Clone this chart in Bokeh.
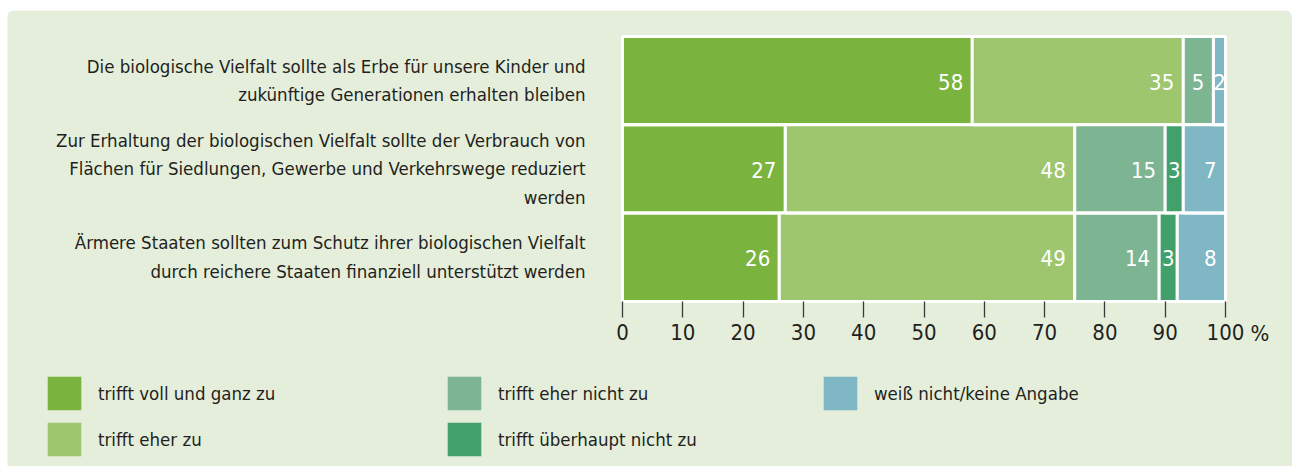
from bokeh.plotting import figure
from bokeh.models import (ColumnDataSource, Range1d, Legend, LegendItem,
                          Label, FixedTicker, LinearAxis)
from bokeh.embed import file_html
from bokeh.resources import INLINE
from bokeh.core.properties import value

# ---------------- data ----------------
statements = [
    "Die biologische Vielfalt sollte als Erbe für unsere Kinder und\nzukünftige Generationen erhalten bleiben",
    "Zur Erhaltung der biologischen Vielfalt sollte der Verbrauch von\nFlächen für Siedlungen, Gewerbe und Verkehrswege reduziert\nwerden",
    "Ärmere Staaten sollten zum Schutz ihrer biologischen Vielfalt\ndurch reichere Staaten finanziell unterstützt werden",
]
answers = ["trifft voll und ganz zu", "trifft eher zu", "trifft eher nicht zu",
           "trifft überhaupt nicht zu", "weiß nicht/keine Angabe"]
voll_und_ganz = [58, 27, 26]
eher_zu = [35, 48, 49]
eher_nicht = [5, 15, 14]
ueberhaupt_nicht = [0, 3, 3]
weiss_nicht = [2, 7, 8]
x_ticks = [0, 10, 20, 30, 40, 50, 60, 70, 80, 90, 100]

series = [voll_und_ganz, eher_zu, eher_nicht, ueberhaupt_nicht, weiss_nicht]
colors = ["#7ab43f", "#9dc66f", "#7db592", "#42a06b", "#7fb7c4"]

FONT = "DejaVu Sans Condensed, Roboto, sans-serif"
TXT = "#231f20"
BG = "#e5eedb"

# ---------------- layout constants (pixels) ----------------
W, H = 1285, 456
X0_PX = 615          # where x = 0 sits, from the figure's left edge
PX_PER_X = 6.03
BAR_TOP_PX = 26      # top of the bar block, from the figure's top edge
PX_PER_ROW = 88.3

n = len(statements)
row_y = [n - 1 - i for i in range(n)]          # top statement highest
x_start = -X0_PX / PX_PER_X
x_end = x_start + W / PX_PER_X
y_end = (n - 0.5) + BAR_TOP_PX / PX_PER_ROW
y_start = y_end - H / PX_PER_ROW

p = figure(width=W, height=H, output_backend="svg", toolbar_location=None,
           x_range=Range1d(x_start, x_end), y_range=Range1d(y_start, y_end),
           x_axis_location=None, y_axis_location=None,
           min_border=0, min_border_left=0, min_border_right=0,
           min_border_top=0, min_border_bottom=0)
p.styles = {"margin-left": "7px", "margin-top": "10px",
            "border-radius": "8px 8px 0 0", "overflow": "hidden"}
p.background_fill_color = BG
p.border_fill_color = BG
p.outline_line_color = None
p.grid.visible = False

# stacked bars
fill_renderers = []
lab_big = dict(x=[], y=[], t=[])
lab_small = dict(x=[], y=[], t=[])
left = [0] * n
for vals, col in zip(series, colors):
    right = [l + v for l, v in zip(left, vals)]
    src = ColumnDataSource(dict(y=row_y, left=left, right=right))
    r = p.hbar(y="y", left="left", right="right", height=1, source=src,
               fill_color=col, line_color=None)
    fill_renderers.append(r)
    p.hbar(y="y", left="left", right="right", height=1, source=src,
           fill_alpha=0, line_color="white", line_width=3)
    for yy, l, rr, v in zip(row_y, left, right, vals):
        if v == 0:
            continue
        if v <= 3:
            lab_small["x"].append((l + rr) / 2)
            lab_small["y"].append(yy)
            lab_small["t"].append(str(v))
        else:
            lab_big["x"].append(rr)
            lab_big["y"].append(yy)
            lab_big["t"].append(str(v))
    left = right

p.text(x="x", y="y", text="t", source=ColumnDataSource(lab_big),
       text_align="right", text_baseline="middle", x_offset=-9, y_offset=1,
       text_color="white", text_font=value(FONT), text_font_size="22px")
p.text(x="x", y="y", text="t", source=ColumnDataSource(lab_small),
       text_align="center", text_baseline="middle", y_offset=1,
       text_color="white", text_font=value(FONT), text_font_size="22px")

# x axis, fixed at the bottom of the bars
xa = LinearAxis(fixed_location=-0.5, ticker=FixedTicker(ticks=x_ticks))
xa.axis_line_color = None
xa.major_tick_in = 0
xa.major_tick_out = 16
xa.major_tick_line_color = "#3a3a3a"
xa.major_tick_line_width = 1.3
xa.minor_tick_line_color = None
xa.major_label_standoff = 7
xa.major_label_text_font = FONT
xa.major_label_text_font_size = "22px"
xa.major_label_text_color = TXT
p.add_layout(xa, "below")

# y axis carrying the statements, fixed at x = 0
ya = LinearAxis(fixed_location=0, ticker=FixedTicker(ticks=row_y),
                major_label_overrides={yy: s for yy, s in zip(row_y, statements)})
ya.axis_line_color = None
ya.major_tick_line_color = None
ya.minor_tick_line_color = None
ya.major_label_standoff = 31
ya.major_label_text_font = FONT
ya.major_label_text_font_size = "18.5px"
ya.major_label_text_color = TXT
ya.major_label_text_align = "right"
ya.major_label_text_line_height = 1.36
p.add_layout(ya, "left")

p.add_layout(Label(x=100, y=-0.5, text="%", x_offset=25, y_offset=-32,
                   text_baseline="middle", text_font=FONT,
                   text_font_size="22px", text_color=TXT))

# legends (three columns)
def make_legend(idx, loc):
    items = [LegendItem(label=answers[i], renderers=[fill_renderers[i]]) for i in idx]
    lg = Legend(items=items, location=loc, orientation="vertical",
                glyph_width=42, glyph_height=42, spacing=4, label_standoff=13,
                padding=0, margin=0, border_line_color=None,
                background_fill_alpha=0, label_text_font=FONT,
                label_text_font_size="18.5px", label_text_color=TXT)
    p.add_layout(lg, "center")

make_legend([0, 1], (36, 6))
make_legend([2, 3], (436, 6))
make_legend([4], (812, 52))

open("out.html", "w").write(file_html(p, INLINE))
